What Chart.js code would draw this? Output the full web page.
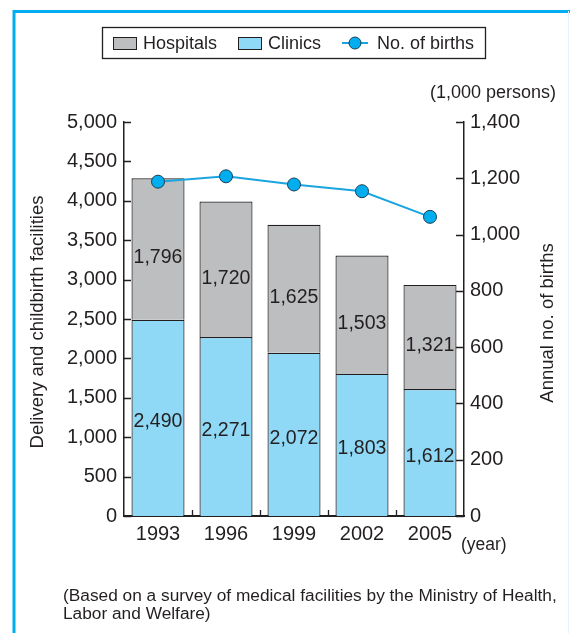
<!DOCTYPE html>
<html>
<head>
<meta charset="utf-8">
<style>
  html, body { margin: 0; padding: 0; background: #fff; }
  canvas { display: block; }
</style>
</head>
<body>
<canvas id="myChart" width="570" height="633"></canvas>

<script src="https://cdn.jsdelivr.net/npm/chart.js"></script>
<script>
// data
const years = ['1993', '1996', '1999', '2002', '2005'];
const clinics = [2490, 2271, 2072, 1803, 1612];
const hospitals = [1796, 1720, 1625, 1503, 1321];
const births = [1188, 1207, 1178, 1154, 1063];   // 1,000 persons
const leftTicks = [0, 500, 1000, 1500, 2000, 2500, 3000, 3500, 4000, 4500, 5000];
const rightTicks = [0, 200, 400, 600, 800, 1000, 1200, 1400];

const FONT = '"Liberation Sans", Arial, Helvetica, sans-serif';
const INK = '#231f20';
const GREY = '#bcbec0';
const SKY = '#8fd8f6';
const CYAN = '#00aeef';

function fmt(v) {
  return v.toLocaleString('en-US');
}

// extra drawing: frame, legend, axis titles, tick marks, value labels
const extras = {
  id: 'extras',
  afterDatasetsDraw(chart) {
    const c = chart.ctx;
    c.save();
    c.fillStyle = INK;
    c.font = '19.5px ' + FONT;
    c.textAlign = 'center';
    c.textBaseline = 'middle';
    // value labels in bars
    [[0, 4], [1, 9]].forEach(([di, off]) => {
      const meta = chart.getDatasetMeta(di);
      meta.data.forEach((bar, i) => {
        const mid = (bar.y + bar.base) / 2 + off;
        c.fillText(fmt(chart.data.datasets[di].data[i]), bar.x, mid);
      });
    });
    c.restore();
  },
  afterDraw(chart) {
    const c = chart.ctx;
    const a = chart.chartArea;
    const ys = chart.scales.y, y1 = chart.scales.y1, xs = chart.scales.x;
    c.save();

    // cyan frame
    c.strokeStyle = CYAN;
    c.lineWidth = 3;
    c.beginPath();
    c.moveTo(14, 633);
    c.lineTo(14, 11.5);
    c.lineTo(570, 11.5);
    c.stroke();
    c.strokeStyle = '#e3f4fb';
    c.lineWidth = 1;
    c.beginPath();
    c.moveTo(568.5, 11);
    c.lineTo(568.5, 633);
    c.stroke();

    // inward tick marks
    c.strokeStyle = INK;
    c.lineWidth = 1.3;
    c.beginPath();
    leftTicks.forEach(v => {
      const p = Math.round(ys.getPixelForValue(v)) + 0.5;
      c.moveTo(a.left, p); c.lineTo(a.left + 7, p);
    });
    rightTicks.forEach(v => {
      const p = Math.round(y1.getPixelForValue(v)) + 0.5;
      c.moveTo(a.right, p); c.lineTo(a.right - 8, p);
    });
    for (let i = 1; i < years.length; i++) {
      const p = Math.round((xs.getPixelForValue(i - 1) + xs.getPixelForValue(i)) / 2) + 0.5;
      c.moveTo(p, a.bottom); c.lineTo(p, a.bottom - 6);
    }
    c.stroke();

    // texts
    c.fillStyle = INK;
    c.font = '18px ' + FONT;
    c.textBaseline = 'middle';
    c.textAlign = 'right';
    c.fillText('(1,000 persons)', 556, 93);
    c.textAlign = 'left';
    c.font = '17.5px ' + FONT;
    c.fillText('(year)', 461, 545);
    c.font = '17.3px ' + FONT;
    c.fillText('(Based on a survey of medical facilities by the Ministry of Health,', 63, 596);
    c.fillText('Labor and Welfare)', 63, 614);

    // axis titles
    c.font = '18.5px ' + FONT;
    c.textAlign = 'center';
    c.save();
    c.translate(38, 322);
    c.rotate(-Math.PI / 2);
    c.fillText('Delivery and childbirth facilities', 0, 0);
    c.restore();
    c.save();
    c.translate(548, 323);
    c.rotate(-Math.PI / 2);
    c.fillText('Annual no. of births', 0, 0);
    c.restore();

    // legend
    c.font = '18px ' + FONT;
    c.strokeStyle = INK;
    c.lineWidth = 1.3;
    c.strokeRect(102.5, 27.5, 383, 31);
    const ly = 43;
    const items = [
      { kind: 'box', color: GREY, x: 113, label: chart.data.datasets[1].label },
      { kind: 'box', color: SKY, x: 238, label: chart.data.datasets[0].label },
      { kind: 'line', color: CYAN, x: 342, label: chart.data.datasets[2].label }
    ];
    c.textAlign = 'left';
    items.forEach(it => {
      if (it.kind === 'box') {
        c.fillStyle = it.color;
        c.fillRect(it.x, ly - 6, 23, 12);
        c.strokeStyle = INK;
        c.lineWidth = 1;
        c.strokeRect(it.x + 0.5, ly - 5.5, 23, 12);
        c.fillStyle = INK;
        c.fillText(it.label, it.x + 30, ly + 1);
      } else {
        c.strokeStyle = '#1aa5e0';
        c.lineWidth = 2;
        c.beginPath();
        c.moveTo(it.x, ly); c.lineTo(it.x + 26, ly);
        c.stroke();
        c.fillStyle = CYAN;
        c.strokeStyle = '#1d3f55';
        c.lineWidth = 1;
        c.beginPath();
        c.arc(it.x + 13, ly, 6, 0, Math.PI * 2);
        c.fill(); c.stroke();
        c.fillStyle = INK;
        c.fillText(it.label, it.x + 35, ly + 1);
      }
    });
    c.restore();
  }
};

const ctx = document.getElementById('myChart');

const myChart = new Chart(ctx, {
  type: 'bar',
  data: {
    labels: years,
    datasets: [
      {
        label: 'Clinics',
        data: clinics,
        backgroundColor: SKY,
        borderColor: INK,
        borderWidth: 1.2,
        yAxisID: 'y',
        stack: 'fac',
        order: 1
      },
      {
        label: 'Hospitals',
        data: hospitals,
        backgroundColor: GREY,
        borderColor: INK,
        borderWidth: 1.2,
        yAxisID: 'y',
        stack: 'fac',
        order: 1
      },
      {
        type: 'line',
        label: 'No. of births',
        data: births,
        yAxisID: 'y1',
        borderColor: '#1aa5e0',
        borderWidth: 2,
        pointRadius: 6.5,
        pointBackgroundColor: CYAN,
        pointBorderColor: '#1d3f55',
        pointBorderWidth: 1,
        tension: 0,
        order: 0
      }
    ]
  },
  options: {
    responsive: false,
    animation: false,
    devicePixelRatio: 1,
    layout: { padding: { top: 122, left: 0, right: 0, bottom: 0 } },
    plugins: {
      legend: { display: false },
      tooltip: { enabled: false }
    },
    datasets: {
      bar: { barPercentage: 0.78, categoryPercentage: 1 }
    },
    scales: {
      x: {
        stacked: true,
        grid: { display: false, drawTicks: false },
        border: { display: true, color: INK, width: 2 },
        ticks: { color: INK, font: { size: 20, family: FONT }, padding: 6 },
        afterFit(scale) { scale.height = 117; }
      },
      y: {
        position: 'left',
        stacked: true,
        min: 0,
        max: 5000,
        afterBuildTicks(scale) { scale.ticks = leftTicks.map(v => ({ value: v })); },
        grid: { display: false, drawTicks: false },
        border: { display: true, color: INK, width: 1.5 },
        ticks: { color: INK, font: { size: 20, family: FONT }, padding: 7, callback: v => fmt(v) },
        afterFit(scale) { scale.width = 124; }
      },
      y1: {
        position: 'right',
        min: 0,
        max: 1400,
        afterBuildTicks(scale) { scale.ticks = rightTicks.map(v => ({ value: v })); },
        grid: { display: false, drawTicks: false },
        border: { display: true, color: INK, width: 1.5 },
        ticks: { color: INK, font: { size: 20, family: FONT }, padding: 6, callback: v => fmt(v) },
        afterFit(scale) { scale.width = 106; }
      }
    }
  },
  plugins: [extras]
});
</script>
</body>
</html>
